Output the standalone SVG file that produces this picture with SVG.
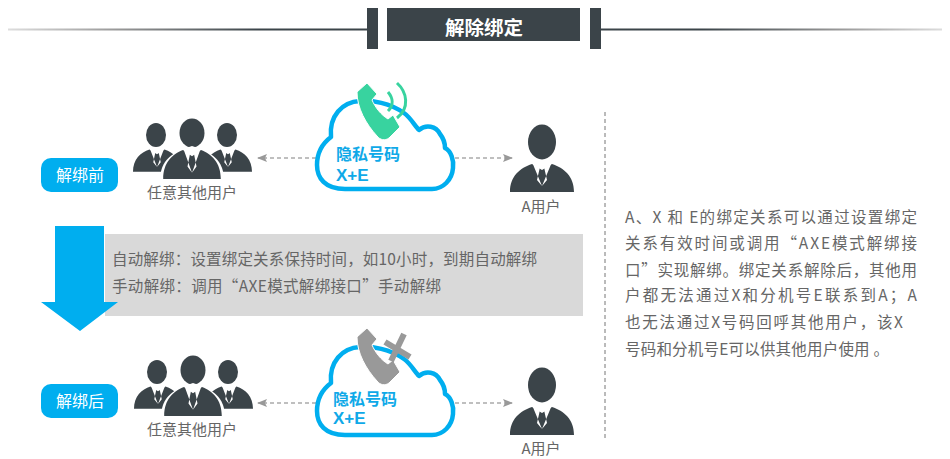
<svg xmlns="http://www.w3.org/2000/svg" width="950" height="459" viewBox="0 0 950 459">
<style>
text{font-family:"Noto Sans CJK SC","Liberation Sans",sans-serif}
.dark{fill:#3b4449}
.pill{fill:#00aeef}
.pt{fill:#fff;font-size:16px;text-anchor:middle}
.cap{fill:#666;font-size:15px;text-anchor:middle}
.body{fill:#666;font-size:15.5px}
.cl{fill:#fff;stroke:#00aeef;stroke-width:4.5;stroke-linejoin:round}
.ct{fill:#0fa9e8;font-size:16px;font-weight:bold}
.cx{fill:#0fa9e8;font-size:17px;font-weight:bold;font-family:"Liberation Sans",sans-serif}
.dash{stroke:#aaa;stroke-width:1.3;stroke-dasharray:4 3;fill:none}
</style>
<defs>
<linearGradient id="gl" x1="0" x2="1" y1="0" y2="0"><stop offset="0" stop-color="#ddd"/><stop offset="0.3" stop-color="#999"/><stop offset="0.7" stop-color="#3b4449"/><stop offset="1" stop-color="#3b4449"/></linearGradient>
<linearGradient id="gr" x1="1" x2="0" y1="0" y2="0"><stop offset="0" stop-color="#ddd"/><stop offset="0.3" stop-color="#999"/><stop offset="0.7" stop-color="#3b4449"/><stop offset="1" stop-color="#3b4449"/></linearGradient>
<marker id="ah" markerWidth="11" markerHeight="10" refX="9" refY="4" orient="auto-start-reverse" markerUnits="userSpaceOnUse"><path d="M0 0L10 4L0 8L2 4Z" fill="#999"/></marker>
<symbol id="torso" overflow="visible">
<path d="M-32 16C-32 0-22-8-10-12L0-6L10-12C22-8 32 0 32 16Z" class="dark"/>
<path d="M-10-14L0 10L10-14L6-15L2-9L5 4L0 10L-5 4L-2-9L-6-15Z" fill="#fff"/>
</symbol>
<path id="cloud" d="M345 189C325 189 317 178 317 165C317 153 323 143 331 137C329 116 342 102 360 101C372 100 390 103 404 113C410 117 415 126 419 130C426 124 436 126 440 134C444 139 445 144 445 148C451 151 454 160 453 168C452 180 443 189 432 189Z" class="cl"/>
<path id="handset" d="M357 92L367 83L377 94L372 100C375 107 381 115 388 119L393 115L400 127L389 138C385 141 380 140 377 136C366 124 357 108 357 92Z" stroke="#fff" stroke-width="1"/>
</defs>
<g id="header">
<rect x="8" y="28.5" width="359" height="2" fill="url(#gl)"/>
<rect x="600" y="28.5" width="342" height="2" fill="url(#gr)"/>
<rect x="367" y="8" width="11" height="41" class="dark"/>
<rect x="590" y="8" width="11" height="41" class="dark"/>
<rect x="387" y="8" width="193" height="33" class="dark"/>
<text x="484" y="35" fill="#fff" font-size="19.5" font-weight="bold" text-anchor="middle">解除绑定</text>
</g>
<g id="connectors">
<line x1="316" y1="158" x2="258" y2="158" class="dash" marker-end="url(#ah)"/>
<line x1="455" y1="158" x2="512" y2="158" class="dash" marker-end="url(#ah)"/>
<line x1="316" y1="403" x2="258" y2="403" class="dash" marker-end="url(#ah)"/>
<line x1="455" y1="403" x2="512" y2="403" class="dash" marker-end="url(#ah)"/>
<line x1="605" y1="112" x2="605" y2="441" stroke="#777" stroke-width="1" stroke-dasharray="4 3"/>
</g>
<g id="band"><rect x="105" y="234" width="478" height="82" fill="#d9d9d9"/>
<text x="112" y="265" class="body" textLength="425">自动解绑：设置绑定关系保持时间，如10小时，到期自动解绑</text>
<text x="112" y="292" class="body" textLength="329">手动解绑：调用“AXE模式解绑接口”手动解绑</text></g>
<path id="flow-arrow" d="M55 226H104V302H118L80 331L41 302H55Z" fill="#00aeef"/>
<g id="pill-before"><rect x="41" y="158" width="77" height="34" rx="10" class="pill"/><text x="80" y="181" class="pt">解绑前</text></g>
<g id="pill-after"><rect x="41" y="384" width="77" height="34" rx="10" class="pill"/><text x="80" y="407" class="pt">解绑后</text></g>
<g id="users-before">
<ellipse cx="156" cy="135" rx="10" ry="12" class="dark"/>
<ellipse cx="227" cy="135" rx="10" ry="12" class="dark"/>
<use href="#torso" transform="translate(157,159) scale(.75,.8)"/>
<use href="#torso" transform="translate(228,159) scale(.75,.8)"/>
<ellipse cx="192" cy="133" rx="12.5" ry="14.5" class="dark"/>
<path d="M160 181C160 160 172 152 192 146C212 152 224 160 224 181Z" fill="#fff"/>
<use href="#torso" transform="translate(192,162.4) scale(.9,1.04)"/>
<text x="192" y="198" class="cap">任意其他用户</text>
</g>
<g id="cloud-before">
<use href="#cloud"/>
<use href="#handset" fill="#38d39f"/>
<path d="M388 92C393 98 394 105 388 111" stroke="#38d39f" stroke-width="3" fill="none"/>
<path d="M397 83C407 92 410 108 397 118" stroke="#38d39f" stroke-width="3" fill="none"/>
<text x="336" y="160" class="ct">隐私号码</text><text x="336" y="181" class="cx">X+E</text>
</g>
<g id="user-a-before"><ellipse cx="542" cy="142" rx="14" ry="17.5" class="dark"/><use href="#torso" transform="translate(542,176)"/><text x="541" y="212" class="cap">A用户</text></g>
<g id="users-after">
<ellipse cx="157" cy="372" rx="10" ry="12" class="dark"/>
<ellipse cx="228" cy="372" rx="10" ry="12" class="dark"/>
<use href="#torso" transform="translate(158,396) scale(.75,.8)"/>
<use href="#torso" transform="translate(229,396) scale(.75,.8)"/>
<ellipse cx="193" cy="370" rx="12.5" ry="14.5" class="dark"/>
<path d="M161 418C161 397 173 389 193 383C213 389 225 397 225 418Z" fill="#fff"/>
<use href="#torso" transform="translate(193,399.4) scale(.9,1.04)"/>
<text x="192" y="435" class="cap">任意其他用户</text>
</g>
<g id="cloud-after">
<use href="#cloud" transform="translate(0,246)"/>
<use href="#handset" transform="translate(0,245)" fill="#999"/>
<path d="M404 334L391 361M385 342L410 357" stroke="#999" stroke-width="6" fill="none"/>
<text x="333" y="405" class="ct">隐私号码</text><text x="333" y="424" class="cx">X+E</text>
</g>
<g id="user-a-after"><ellipse cx="542" cy="385" rx="14" ry="17.5" class="dark"/><use href="#torso" transform="translate(542,419)"/><text x="541" y="454" class="cap">A用户</text></g>
<g id="description">
<text x="625" y="223" class="body" textLength="292">A、X 和 E的绑定关系可以通过设置绑定</text>
<text x="625" y="249" class="body" textLength="292">关系有效时间或调用“AXE模式解绑接</text>
<text x="625" y="276" class="body" textLength="292">口”实现解绑。绑定关系解除后，其他用</text>
<text x="625" y="301" class="body" textLength="292">户都无法通过X和分机号E联系到A；A</text>
<text x="625" y="328" class="body" textLength="278">也无法通过X号码回呼其他用户，该X</text>
<text x="625" y="355" class="body" textLength="264">号码和分机号E可以供其他用户使用 。</text>
</g>
</svg>
